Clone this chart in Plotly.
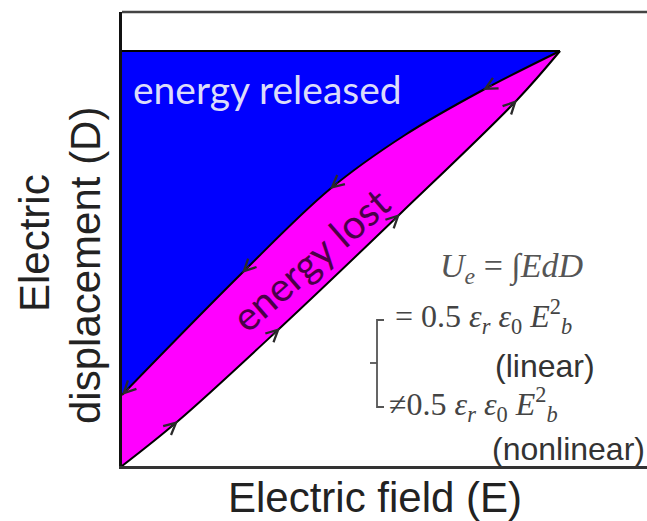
import plotly.graph_objects as go
import math

# ---- data (normalised E, D) ----
charge_E = [0.0, 0.1067, 0.3010, 0.5295, 0.7524, 0.8343]
charge_D = [0.0, 0.0991, 0.3040, 0.5551, 0.8062, 0.9141]
discharge_E = [0.0, 0.2286, 0.3962, 0.5390, 0.6876, 0.8343]
discharge_D = [0.1564, 0.4251, 0.6101, 0.7291, 0.8282, 0.9141]
top_E = [0.0, 0.8343]
top_D = [0.9141, 0.9141]
charge_arrow_idx = [1, 2, 3, 4]
discharge_arrow_idx = [0, 1, 2, 4]

W, H = 647, 521
L, R, T, B = 122, 0, 12, 55
PW, PH = W - L - R, H - T - B

def px(x, y):
    return (x - L) / PW, (H - B - y) / PH

fig = go.Figure()
fig.add_trace(go.Scatter(x=charge_E, y=charge_D, mode="lines",
                         line=dict(color="black", width=2, shape="spline"),
                         hoverinfo="skip", showlegend=False))
fig.add_trace(go.Scatter(x=discharge_E, y=discharge_D, mode="lines",
                         line=dict(color="black", width=2, shape="spline"),
                         fill="tonexty", fillcolor="#ff00ff",
                         hoverinfo="skip", showlegend=False))
fig.add_trace(go.Scatter(x=top_E, y=top_D, mode="lines",
                         line=dict(color="black", width=2),
                         fill="tonexty", fillcolor="#0000ff",
                         hoverinfo="skip", showlegend=False))

annotations = []

def add_arrow(xs, ys, i, forward):
    j0 = max(i - 1, 0)
    j1 = min(i + 1, len(xs) - 1)
    dx = (xs[j1] - xs[j0]) * PW
    dy = -(ys[j1] - ys[j0]) * PH
    n = math.hypot(dx, dy)
    ux, uy = dx / n, dy / n
    if not forward:
        ux, uy = -ux, -uy
    Lr = 12
    annotations.append(dict(x=xs[i], y=ys[i], xref="x", yref="y",
                            ax=-ux * Lr, ay=-uy * Lr, text="",
                            showarrow=True, arrowhead=5, arrowsize=1.8,
                            arrowwidth=1.3, arrowcolor="#2a2a2a"))

for i in charge_arrow_idx:
    add_arrow(charge_E, charge_D, i, True)
for i in discharge_arrow_idx:
    add_arrow(discharge_E, discharge_D, i, False)

def text(x, y, s, size, color, family, angle=0, xanchor="center"):
    xp, yp = px(x, y)
    annotations.append(dict(x=xp, y=yp, xref="paper", yref="paper", text=s,
                            showarrow=False, textangle=angle, xanchor=xanchor,
                            yanchor="middle",
                            font=dict(size=size, color=color, family=family)))

text(267, 89, "energy released", 39, "#dcdcfa", "Lato")
text(310, 260, "energy lost", 40, "#4a0048", "Lato", angle=-41)
text(375, 497, "Electric field (E)", 42, "#222222", "Liberation Sans")
text(34, 243, "Electric", 42, "#222222", "Liberation Sans", angle=-90)
text(85, 266, "displacement (D)", 42, "#222222", "Liberation Sans", angle=-90)

serif = "Liberation Serif"
text(511, 268, "<i>U<sub>e</sub></i> = ∫<i>EdD</i>", 34, "#555555", serif)
text(393, 316, "= 0.5 <i>ε<sub>r</sub> ε</i><sub>0</sub> <i>E</i><sup>2</sup><sub><i>b</i></sub>", 32, "#444444", serif, xanchor="left")
text(545, 366, "(linear)", 32, "#333333", "Liberation Sans")
text(387, 404, "≠0.5 <i>ε<sub>r</sub> ε</i><sub>0</sub> <i>E</i><sup>2</sup><sub><i>b</i></sub>", 32, "#444444", serif, xanchor="left")
text(490, 449, "(nonlinear)", 32, "#333333", "Liberation Sans", xanchor="left")

shapes = []
x0, y0 = px(384, 320)
x1, y1 = px(377, 320)
x2, y2 = px(377, 407)
x3, y3 = px(384, 407)
shapes.append(dict(type="path", xref="paper", yref="paper",
                   path=f"M{x0},{y0} L{x1},{y1} L{x2},{y2} L{x3},{y3}",
                   line=dict(color="#555555", width=1.8)))
mx0, my = px(370, 363)
mx1, _ = px(377, 363)
shapes.append(dict(type="line", xref="paper", yref="paper",
                   x0=mx0, y0=my, x1=mx1, y1=my,
                   line=dict(color="#555555", width=1.8)))
shapes.append(dict(type="line", xref="paper", yref="paper",
                   x0=0, y0=1, x1=1.05, y1=1,
                   line=dict(color="#444444", width=2.5)))

fig.update_layout(
    width=W, height=H,
    margin=dict(l=L, r=R, t=T, b=B),
    paper_bgcolor="white", plot_bgcolor="white",
    xaxis=dict(range=[0, 1], showgrid=False, zeroline=False, showticklabels=False,
               ticks="", showline=True, linecolor="#333333", linewidth=3),
    yaxis=dict(range=[0, 1], showgrid=False, zeroline=False, showticklabels=False,
               ticks="", showline=True, linecolor="#111111", linewidth=3),
    annotations=annotations,
    shapes=shapes,
)

fig.write_html("out.html", config={"displayModeBar": False})
